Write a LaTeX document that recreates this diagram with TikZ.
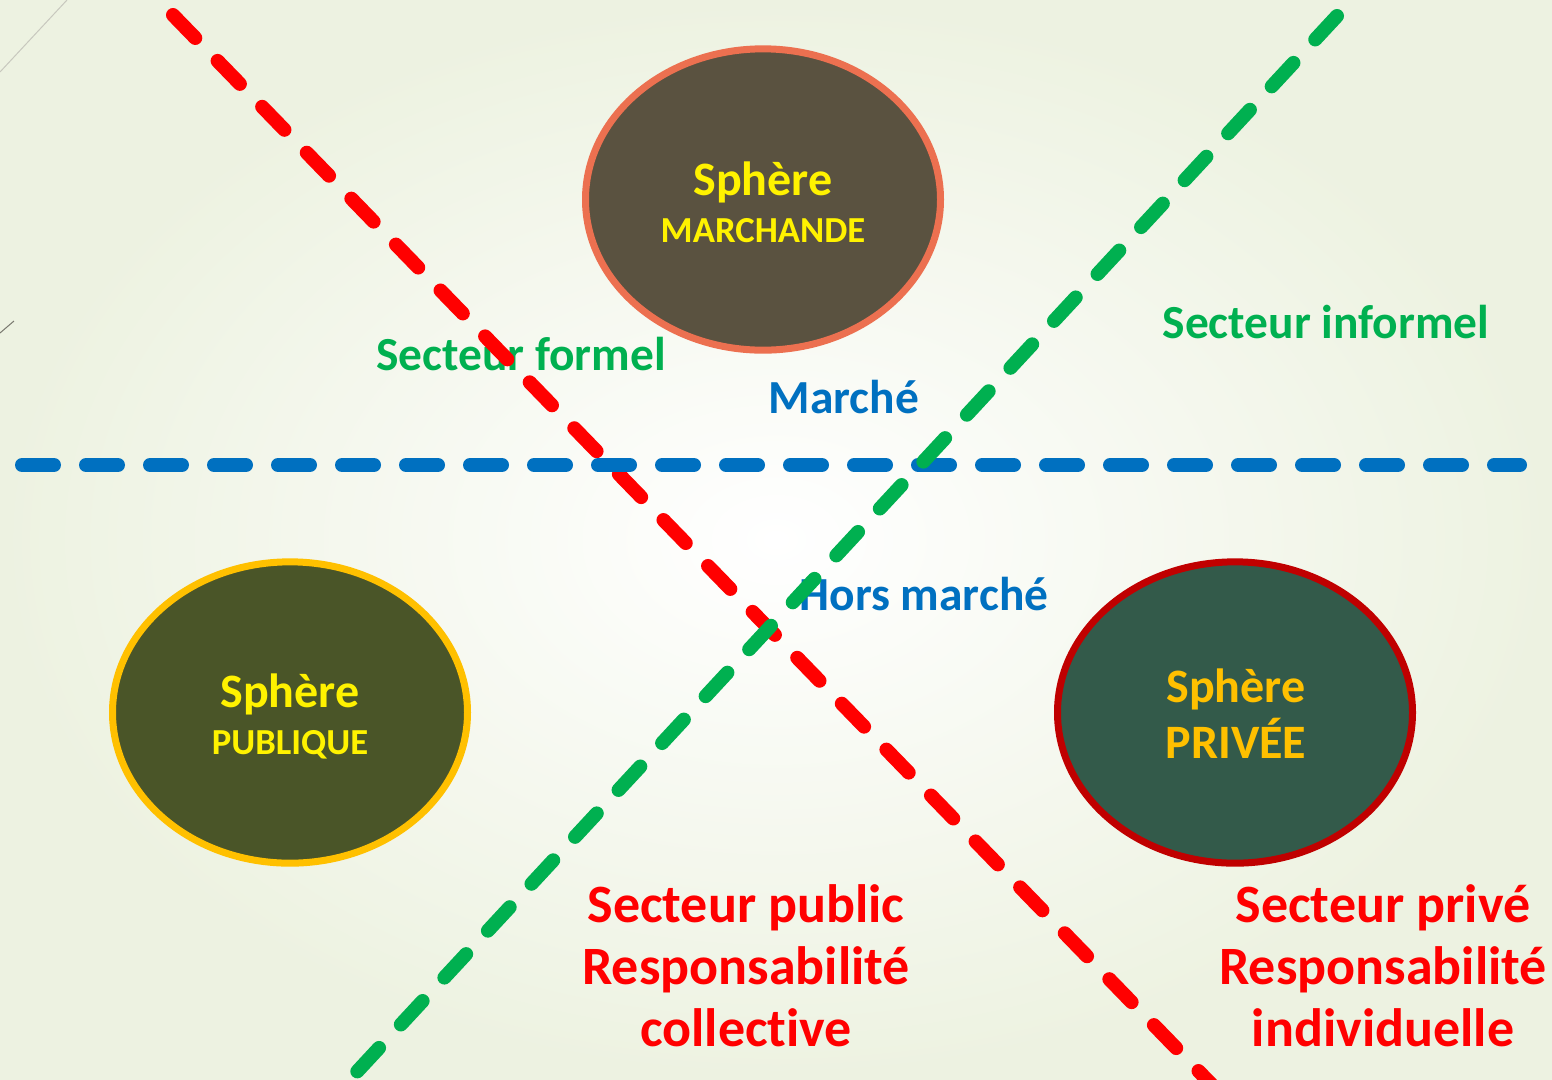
\documentclass[tikz,border=0pt]{standalone}
\usepackage{fontspec}
\setmainfont{Carlito}[Ligatures=NoCommon]
\usetikzlibrary{shapes.geometric}

\definecolor{bgedge}{RGB}{237,242,225}
\definecolor{lineRed}{RGB}{255,0,0}
\definecolor{lineBlue}{RGB}{0,112,192}
\definecolor{lineGreen}{RGB}{0,176,80}
\definecolor{marchFill}{RGB}{90,82,64}
\definecolor{marchDraw}{RGB}{236,112,80}
\definecolor{publFill}{RGB}{74,85,40}
\definecolor{publDraw}{RGB}{255,192,0}
\definecolor{privFill}{RGB}{51,90,74}
\definecolor{privDraw}{RGB}{192,0,0}
\definecolor{txtGold}{RGB}{255,192,0}

\tikzset{every picture/.style={line width=0.75pt}}
\tikzset{
	sphere/.style={ellipse, line width=5.25pt, minimum width=266.25pt, minimum height=226pt, inner sep=0pt},
	cutline/.style={line width=10.5pt, line cap=round, dash pattern=on 24pt off 24pt},
	sectlabel/.style={anchor=base, font=\bfseries\fontsize{35.6}{42}\selectfont},
	bigsph/.style={anchor=base, font=\bfseries\fontsize{36}{42}\selectfont},
	smallsph/.style={anchor=base, font=\bfseries\fontsize{27.5}{33}\selectfont},
	redblock/.style={anchor=base, align=center, text=lineRed, font=\bfseries\fontsize{40.5}{46.5}\selectfont},
}

\begin{document}
\begin{tikzpicture}[x=0.75pt,y=0.75pt,yscale=-1,xscale=1]
		\useasboundingbox (0,0) rectangle (1552,1079);
		
		%Background
		\shade [inner color=white, outer color=bgedge] (0,0) rectangle (1552,1079);
		\draw [color={rgb, 255:red, 200; green, 200; blue, 190 }] (0,72) -- (67,0) ;
		\draw [color={rgb, 255:red, 120; green, 120; blue, 110 }] (0,333) -- (14,321) ;
		
		%Shape: Ellipse [id:marchande]
		\node [sphere, fill=marchFill, draw=marchDraw] (marchande) at (763,199.5) {};
		%Shape: Ellipse [id:publique]
		\node [sphere, fill=publFill, draw=publDraw] (publique) at (290,712.5) {};
		%Shape: Ellipse [id:privee]
		\node [sphere, fill=privFill, draw=privDraw] (privee) at (1235,712.5) {};
		
		% Text Node
		\node [bigsph, text=yellow] (marchT) at (763,195) {Sphère};
		% Text Node
		\node [smallsph, text=yellow] (marchB) at (763,242) {MARCHANDE};
		% Text Node
		\node [bigsph, text=yellow] (publT) at (290,707) {Sphère};
		% Text Node
		\node [smallsph, text=yellow] (publB) at (290,754) {PUBLIQUE};
		% Text Node
		\node [bigsph, text=txtGold] (privT) at (1236,702) {Sphère};
		% Text Node
		\node [bigsph, text=txtGold] (privB) at (1236,758) {PRIVÉE};
		
		% Text Node
		\node [sectlabel, text=lineGreen] (formel) at (521,370) {Secteur formel};
		% Text Node
		\node [sectlabel, text=lineGreen] (informel) at (1326,338) {Secteur informel};
		% Text Node
		\node [sectlabel, text=lineBlue] (marche) at (844,413) {Marché};
		% Text Node
		\node [sectlabel, text=lineBlue] (horsmarche) at (924,610) {Hors marché};
		% Text Node
		\node [redblock] (public) at (746,1046) {Secteur public\\Responsabilité\\collective};
		% Text Node
		\node [redblock] (prive) at (1383,1046) {Secteur privé\\Responsabilité\\individuelle};
		
		%Straight Lines [id:red]
		\draw [cutline, color=lineRed] (173,15) -- (1215,1088) ;
		%Straight Lines [id:blue]
		\draw [cutline, color=lineBlue] (22,465) -- (1520,465) ;
		%Straight Lines [id:green]
		\draw [cutline, color=lineGreen] (1337,16) -- (340,1090) ;
		
\end{tikzpicture}
\end{document}
